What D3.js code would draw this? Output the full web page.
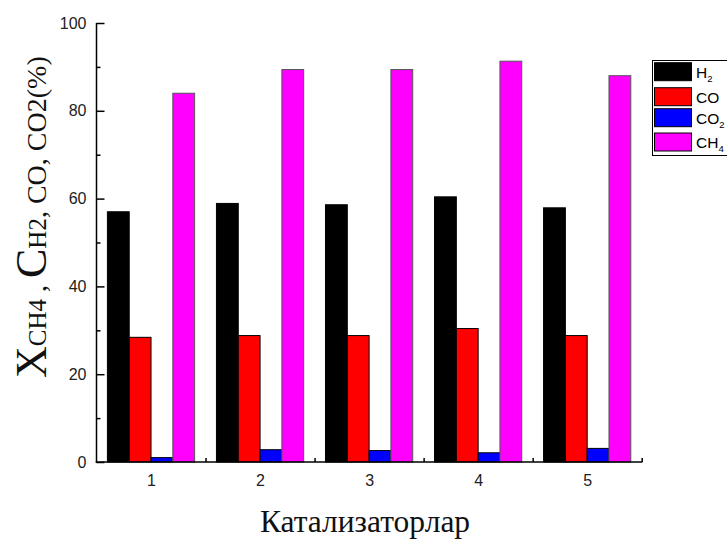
<!DOCTYPE html>
<html>
<head>
<meta charset="utf-8">
<script src="https://cdn.jsdelivr.net/npm/d3@7"></script>
<style>
  html, body { margin: 0; padding: 0; background: #fff; }
  svg { display: block; }
</style>
</head>
<body>
<script>
// ---- data ----
const categories = [1, 2, 3, 4, 5];
const seriesNames = ["H2", "CO", "CO2", "CH4"];
const H2  = [57.0, 58.9, 58.6, 60.4, 57.9];
const CO  = [28.4, 28.8, 28.8, 30.4, 28.8];
const CO2 = [1.0, 2.8, 2.6, 2.1, 3.1];
const CH4 = [84.0, 89.4, 89.4, 91.3, 88.0];
const yMajorTicks = [0, 20, 40, 60, 80, 100];
const yMinorTicks = [10, 30, 50, 70, 90];
const xMinorTicks = [1.5, 2.5, 3.5, 4.5, 5.5];
const colors = ["#000000", "#ff0000", "#0000ff", "#ff00ff"];

const seriesValues = [H2, CO, CO2, CH4];

const W = 727, H = 543;
const svg = d3.select("body").append("svg").attr("width", W).attr("height", H);

const pL = 96.5, pR = 641.7, pT = 23, pB = 462;
const x = d3.scaleLinear().domain([0.5, 5.5]).range([pL, pR]);
const y = d3.scaleLinear().domain([0, 100]).range([pB, pT]);
const unit = x(2) - x(1);
const inner = d3.scaleBand().domain(seriesNames).range([-0.4 * unit, 0.4 * unit]).padding(0);

// bars
seriesNames.forEach((s, si) => {
  svg.append("g").selectAll("rect")
    .data(categories.map((c, i) => ({ c, v: seriesValues[si][i] })))
    .join("rect")
    .attr("x", d => x(d.c) + inner(s))
    .attr("y", d => y(d.v))
    .attr("width", inner.bandwidth())
    .attr("height", d => y(0) - y(d.v))
    .attr("fill", colors[si])
    .attr("stroke", si === 3 ? "#555" : "#000")
    .attr("stroke-width", 1);
});

// y axis
const yAxis = svg.append("g").attr("transform", `translate(${pL},0)`);
yAxis.call(d3.axisLeft(y).tickValues(yMajorTicks).tickSizeInner(-8).tickSizeOuter(0).tickPadding(10));
yAxis.select(".domain").remove();
yAxis.selectAll(".tick line").attr("stroke", "#000").attr("stroke-width", 1.5);
yAxis.selectAll(".tick text").attr("font-family", "Liberation Sans, Arial, sans-serif").attr("font-size", 16).attr("fill", "#222");
const yMinor = svg.append("g").attr("transform", `translate(${pL},0)`);
yMinor.call(d3.axisLeft(y).tickValues(yMinorTicks).tickSizeInner(-4).tickSizeOuter(0).tickFormat(""));
yMinor.select(".domain").remove();
yMinor.selectAll(".tick line").attr("stroke", "#000").attr("stroke-width", 1.5);
svg.append("line").attr("x1", pL).attr("x2", pL).attr("y1", pT).attr("y2", pB + 0.75)
  .attr("stroke", "#000").attr("stroke-width", 1.5);

// x axis
const xAxis = svg.append("g").attr("transform", `translate(0,${pB})`);
xAxis.call(d3.axisBottom(x).tickValues(categories).tickSizeInner(0).tickSizeOuter(0).tickPadding(13).tickFormat(d3.format("d")));
xAxis.select(".domain").remove();
xAxis.selectAll(".tick text").attr("font-family", "Liberation Sans, Arial, sans-serif").attr("font-size", 16).attr("fill", "#222");
const xMinor = svg.append("g").attr("transform", `translate(0,${pB})`);
xMinor.call(d3.axisBottom(x).tickValues(xMinorTicks).tickSizeInner(-4).tickSizeOuter(0).tickFormat(""));
xMinor.select(".domain").remove();
xMinor.selectAll(".tick line").attr("stroke", "#000").attr("stroke-width", 1.5);
svg.append("line").attr("x1", pL - 0.75).attr("x2", pR + 0.75).attr("y1", pB).attr("y2", pB)
  .attr("stroke", "#000").attr("stroke-width", 1.5);

// x axis title
svg.append("text")
  .attr("x", 365).attr("y", 532)
  .attr("text-anchor", "middle")
  .attr("font-family", "Liberation Serif, Times New Roman, serif")
  .attr("font-size", 31.5)
  .attr("fill", "#111")
  .text("Катализаторлар");

// y axis title
const yt = svg.append("text")
  .attr("transform", "translate(46,378) rotate(-90)")
  .attr("font-family", "Liberation Serif, Times New Roman, serif")
  .attr("fill", "#111");
const parts = [
  ["X", 44], ["CH", 25], ["4", 25], [" , ", 28], ["C", 44], ["H", 25], ["2", 25], [", CO, CO", 28], ["2", 28], ["(%)", 28]
];
parts.forEach(p => yt.append("tspan").attr("font-size", p[1]).text(p[0]));

// legend
const lg = svg.append("g");
lg.append("rect").attr("x", 652.5).attr("y", 60.5).attr("width", 100).attr("height", 95)
  .attr("fill", "#fff").attr("stroke", "#000").attr("stroke-width", 1);
const legY = [62.7, 87.7, 108.7, 133];
seriesNames.forEach((s, i) => {
  lg.append("rect").attr("x", 654.5).attr("y", legY[i]).attr("width", 37).attr("height", 18)
    .attr("fill", colors[i]).attr("stroke", "#000").attr("stroke-width", 1);
  const t = lg.append("text").attr("x", 696).attr("y", legY[i] + 15)
    .attr("font-family", "Liberation Sans, Arial, sans-serif").attr("font-size", 15.5).attr("fill", "#000");
  const base = s.replace(/\d+$/, "");
  const sub = s.slice(base.length);
  t.append("tspan").text(base);
  if (sub) t.append("tspan").attr("font-size", 9.5).attr("dy", 4).text(sub);
});
</script>
</body>
</html>
